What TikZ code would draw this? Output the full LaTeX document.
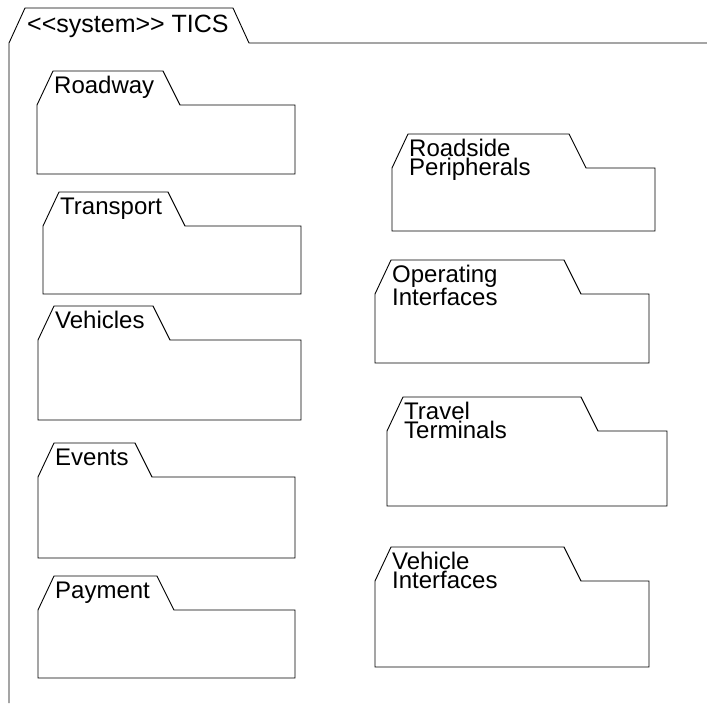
\documentclass[tikz,border=0pt]{standalone}
\usepackage{fontspec}
\setmainfont{Liberation Sans}
\usepackage{tikz}
\tikzset{
    pkgline/.style={draw=black, line width=0.9pt, line join=miter},
    pkglabel/.style={anchor=base west, inner sep=0pt,
        font=\fontsize{24}{19}\selectfont}
}
% folder: name, left x, tab top y, tab right x, right x, bottom y, label
\newcommand{\umlpkg}[7]{%
    \draw[pkgline] (#2,#3+34) -- (#2+16,#3) -- (#4,#3) -- (#4+17,#3+34)
        -- (#5,#3+34) -- (#5,#6) -- (#2,#6) -- cycle;
    \node[pkglabel] (#1) at (#2+17,#3+22) {#7};
}
% two lines, baseline on the first one
\newcommand{\twoline}[2]{\vtop{\hbox{#1}\hbox{#2}}}

\begin{document}
\begin{tikzpicture}[x=1pt, y=-1pt]
\useasboundingbox (0,0) rectangle (707,705);

%system frame
\draw[pkgline] (9,703) -- (9,43) -- (25,8) -- (233,8) -- (249,43) -- (707,43);
\node[pkglabel, font=\fontsize{25}{25}\selectfont] (tics) at (27,32) {<{}<system>{}> TICS};

%left column
\umlpkg{roadway}{37}{71}{163}{295}{174}{Roadway}
\umlpkg{transport}{43}{192}{168}{301}{294}{Transport}
\umlpkg{vehicles}{38}{306}{153}{301}{420}{Vehicles}
\umlpkg{events}{38}{443}{135}{295}{558}{Events}
\umlpkg{payment}{38}{576}{157}{295}{678}{Payment}

%right column
\umlpkg{roadside}{392}{134}{569}{655}{231}{\twoline{Roadside}{Peripherals}}
\umlpkg{operating}{375}{260}{564}{649}{363}{\twoline{Operating}{Interfaces}}
\umlpkg{travel}{387}{397}{581}{667}{506}{\twoline{Travel}{Terminals}}
\umlpkg{vehif}{375}{547}{564}{649}{667}{\twoline{Vehicle}{Interfaces}}

\end{tikzpicture}
\end{document}
